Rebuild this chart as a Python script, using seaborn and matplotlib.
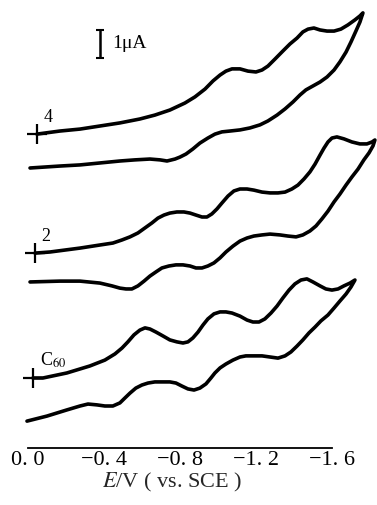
import numpy as np
import pandas as pd
import matplotlib
matplotlib.use("Agg")
import matplotlib.pyplot as plt
import seaborn as sns

# Cyclic voltammograms: potential E in V vs. SCE, current in uA (curves offset vertically)
# each list = forward (cathodic) sweep followed by the return sweep
c4_E = [-0.047, -0.168, -0.274, -0.379, -0.484, -0.589, -0.668, -0.747, -0.826, -0.879,
        -0.932, -0.974, -1.011, -1.042, -1.074, -1.116, -1.158, -1.200, -1.232, -1.263,
        -1.300, -1.342, -1.379, -1.416, -1.447, -1.474, -1.505, -1.537, -1.574, -1.611,
        -1.647, -1.684, -1.721, -1.747, -1.763,
        -1.747, -1.726, -1.700, -1.674, -1.642, -1.611, -1.574, -1.537, -1.500, -1.463,
        -1.432, -1.395, -1.353, -1.311, -1.263, -1.221, -1.168, -1.116, -1.063, -1.021,
        -0.984, -0.947, -0.905, -0.868, -0.832, -0.800, -0.774, -0.732, -0.695, -0.642,
        -0.563, -0.484, -0.379, -0.274, -0.168, -0.011]
c4_I = [11.21, 11.32, 11.39, 11.50, 11.61, 11.75, 11.89, 12.07, 12.32, 12.54,
        12.82, 13.11, 13.32, 13.46, 13.54, 13.54, 13.46, 13.43, 13.50, 13.64,
        13.89, 14.18, 14.43, 14.64, 14.86, 14.96, 15.00, 14.93, 14.89, 14.89,
        14.96, 15.11, 15.29, 15.43, 15.54,
        15.21, 14.89, 14.50, 14.14, 13.79, 13.50, 13.25, 13.07, 12.93, 12.79,
        12.61, 12.36, 12.11, 11.89, 11.68, 11.54, 11.43, 11.36, 11.32, 11.29,
        11.21, 11.07, 10.89, 10.68, 10.50, 10.39, 10.32, 10.25, 10.29, 10.32,
        10.29, 10.25, 10.18, 10.11, 10.07, 10.00]

c2_E = [-0.037, -0.116, -0.274, -0.379, -0.447, -0.495, -0.537, -0.579, -0.616, -0.653,
        -0.684, -0.716, -0.747, -0.784, -0.821, -0.853, -0.884, -0.916, -0.942, -0.968,
        -0.995, -1.021, -1.053, -1.084, -1.116, -1.153, -1.189, -1.232, -1.274, -1.316,
        -1.353, -1.389, -1.421, -1.453, -1.484, -1.511, -1.537, -1.558, -1.579, -1.600,
        -1.626, -1.663, -1.705, -1.747, -1.784, -1.811, -1.826,
        -1.816, -1.795, -1.768, -1.737, -1.705, -1.674, -1.642, -1.611, -1.579, -1.547,
        -1.516, -1.484, -1.447, -1.411, -1.368, -1.326, -1.274, -1.232, -1.189, -1.153,
        -1.116, -1.079, -1.042, -1.011, -0.979, -0.947, -0.916, -0.884, -0.853, -0.816,
        -0.779, -0.742, -0.705, -0.674, -0.642, -0.611, -0.579, -0.547, -0.516, -0.484,
        -0.442, -0.379, -0.274, -0.168, -0.011]
c2_I = [6.96, 7.00, 7.14, 7.25, 7.32, 7.43, 7.54, 7.68, 7.86, 8.04,
        8.21, 8.32, 8.39, 8.43, 8.43, 8.39, 8.32, 8.25, 8.25, 8.36,
        8.54, 8.75, 9.00, 9.18, 9.25, 9.25, 9.21, 9.14, 9.11, 9.11,
        9.14, 9.25, 9.39, 9.61, 9.86, 10.14, 10.46, 10.71, 10.93, 11.07,
        11.11, 11.04, 10.93, 10.86, 10.86, 10.93, 11.00,
        10.79, 10.54, 10.29, 9.96, 9.68, 9.39, 9.07, 8.79, 8.46, 8.18,
        7.93, 7.75, 7.61, 7.54, 7.57, 7.61, 7.64, 7.61, 7.57, 7.50,
        7.39, 7.21, 7.00, 6.79, 6.61, 6.50, 6.43, 6.43, 6.50, 6.54,
        6.54, 6.50, 6.43, 6.29, 6.14, 5.96, 5.79, 5.68, 5.68, 5.71,
        5.79, 5.89, 5.96, 5.96, 5.93]

c60_E = [-0.026, -0.079, -0.205, -0.326, -0.405, -0.458, -0.495, -0.526, -0.558, -0.589,
         -0.616, -0.642, -0.674, -0.711, -0.747, -0.784, -0.816, -0.842, -0.868, -0.895,
         -0.921, -0.947, -0.979, -1.011, -1.042, -1.074, -1.116, -1.153, -1.184, -1.216,
         -1.247, -1.279, -1.311, -1.342, -1.374, -1.405, -1.437, -1.468, -1.500, -1.537,
         -1.568, -1.600, -1.632, -1.663, -1.695, -1.721,
         -1.700, -1.674, -1.642, -1.611, -1.579, -1.542, -1.511, -1.479, -1.447, -1.416,
         -1.384, -1.353, -1.316, -1.274, -1.232, -1.189, -1.147, -1.116, -1.079, -1.042,
         -1.011, -0.984, -0.963, -0.937, -0.905, -0.874, -0.842, -0.811, -0.779, -0.747,
         -0.711, -0.668, -0.632, -0.600, -0.568, -0.537, -0.511, -0.484, -0.447, -0.405,
         -0.363, -0.316, -0.274, -0.205, -0.100, 0.005]
c60_I = [2.50, 2.50, 2.68, 2.93, 3.14, 3.36, 3.57, 3.79, 4.04, 4.21,
         4.29, 4.25, 4.14, 4.00, 3.86, 3.79, 3.75, 3.79, 3.93, 4.14,
         4.39, 4.61, 4.79, 4.86, 4.86, 4.82, 4.71, 4.57, 4.50, 4.50,
         4.61, 4.82, 5.07, 5.36, 5.64, 5.86, 6.00, 6.04, 5.93, 5.79,
         5.68, 5.64, 5.68, 5.79, 5.89, 6.00,
         5.75, 5.50, 5.25, 5.00, 4.75, 4.54, 4.32, 4.11, 3.86, 3.64,
         3.43, 3.29, 3.21, 3.25, 3.29, 3.29, 3.29, 3.25, 3.14, 3.00,
         2.86, 2.68, 2.50, 2.29, 2.14, 2.07, 2.11, 2.21, 2.32, 2.36,
         2.36, 2.36, 2.32, 2.25, 2.14, 1.96, 1.79, 1.61, 1.50, 1.50,
         1.54, 1.57, 1.50, 1.36, 1.14, 0.96]

curve_names = ["4", "2", "C60"]
curve_labels = ["4", "2", "C$_{60}$"]
tick_values = [0.0, -0.4, -0.8, -1.2, -1.6]
tick_labels = ["0. 0", "\u22120. 4", "\u22120. 8", "\u22121. 2", "\u22121. 6"]

frames = []
for name, E, I in zip(curve_names, [c4_E, c2_E, c60_E], [c4_I, c2_I, c60_I]):
    frames.append(pd.DataFrame({"E": E, "I": I, "curve": name, "order": np.arange(len(E))}))
df = pd.concat(frames, ignore_index=True)

sns.set_theme(style="white")
plt.rcParams["font.family"] = ["Liberation Serif", "DejaVu Serif"]
plt.rcParams["mathtext.fontset"] = "stix"

fig = plt.figure(figsize=(3.77, 5.05), dpi=100)
ax = fig.add_axes([0.0, 57 / 505, 1.0, 448 / 505])

sns.lineplot(data=df, x="E", y="I", units="curve", estimator=None, sort=False,
             color="black", linewidth=2.6, ax=ax, legend=False)
for ln in ax.lines:
    ln.set_solid_joinstyle("round")
    ln.set_solid_capstyle("round")

# start-point crosses and curve labels
starts = df[df["order"] == 0]
ax.plot(starts["E"], starts["I"], ls="none", marker="+", ms=14, mew=1.6, color="black")
for (_, row), lab in zip(starts.iterrows(), curve_labels):
    ax.text(row["E"] - 0.035, row["I"] + 0.3, lab, ha="left", va="bottom",
            fontsize=13, color="black")

# 1 uA scale bar
ax.errorbar([-0.379], [14.43], yerr=[0.5], fmt="none", ecolor="black",
            elinewidth=1.8, capsize=3, capthick=1.5)
ax.text(-0.445, 14.43, "1\u03bcA", ha="left", va="center", fontsize=14, color="black")

ax.set_xlim(0.147, -1.837)
ax.set_ylim(0, 16)
for side in ["top", "left", "right"]:
    ax.spines[side].set_visible(False)
ax.spines["bottom"].set_bounds(-1.6, 0.0)
ax.spines["bottom"].set_linewidth(1.3)
ax.spines["bottom"].set_color("black")
ax.set_yticks([])
ax.set_xticks(tick_values)
ax.set_xticklabels(tick_labels, fontsize=16)
ax.tick_params(axis="x", direction="in", length=3, width=1.2, pad=2, colors="black")
ax.set_ylabel("")
ax.set_xlabel("$E$/V ( vs. SCE )", fontsize=16)
ax.xaxis.set_label_coords(172 / 377, -0.052)
ax.set_facecolor("white")

fig.savefig("out.png", dpi=100, facecolor="white")
